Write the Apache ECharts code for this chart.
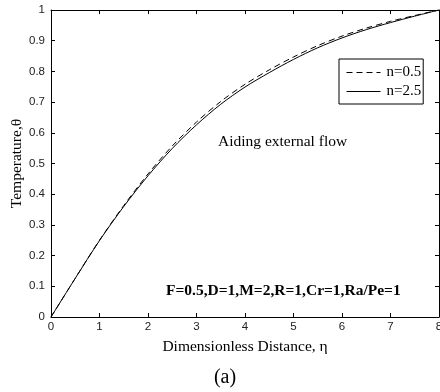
<!DOCTYPE html>
<html>
<head>
<meta charset="utf-8">
<script src="https://cdn.jsdelivr.net/npm/echarts@6/dist/echarts.min.js"></script>
<style>html,body{margin:0;padding:0;background:#fff}#c{width:440px;height:392px}</style>
</head>
<body>
<div id="c"></div>
<script>
var eta = [0, 0.5, 1, 1.5, 2, 2.5, 3, 3.5, 4, 4.5, 5, 5.5, 6, 6.5, 7, 7.5, 8];
var thetaN05 = [0, 0.126, 0.250, 0.363, 0.466, 0.557, 0.635, 0.702, 0.758, 0.805, 0.847, 0.884, 0.915, 0.941, 0.963, 0.982, 1.0];
var thetaN25 = [0, 0.126, 0.249, 0.360, 0.460, 0.549, 0.626, 0.693, 0.749, 0.796, 0.839, 0.877, 0.909, 0.936, 0.959, 0.980, 1.0];
var seriesNames = ['n=0.5', 'n=2.5'];
var xTitle = 'Dimensionless Distance, \u03b7';
var yTitle = 'Temperature,\u03b8';
var noteText = 'Aiding external flow';
var paramText = 'F=0.5,D=1,M=2,R=1,Cr=1,Ra/Pe=1';
var panelLabel = '(a)';

function pairs(xs, ys) { return xs.map(function (x, i) { return [x, ys[i]]; }); }

var serif = '"Liberation Serif", "Times New Roman", serif';
var chart = echarts.init(document.getElementById('c'), null, { renderer: 'canvas' });
var axisLine = { show: true, onZero: false, lineStyle: { color: '#000', width: 1 } };
var lblStyle = { color: '#222', fontFamily: 'Liberation Sans, Arial, sans-serif', fontSize: 11.5 };
chart.setOption({
  animation: false,
  backgroundColor: '#fff',
  grid: { left: 51, right: 1, top: 10, bottom: 75, containLabel: false, outerBoundsMode: 'none' },
  title: {
    text: panelLabel, left: 220, top: 363, textAlign: 'center',
    textStyle: { fontFamily: serif, fontSize: 20, fontWeight: 'normal', color: '#000' }
  },
  legend: {
    data: seriesNames, orient: 'vertical', left: 339, top: 59,
    padding: [6, 2, 5, 7], itemGap: 4, itemWidth: 34, itemHeight: 14,
    borderColor: '#000', borderWidth: 1, backgroundColor: '#fff',
    itemStyle: { opacity: 0 },
    lineStyle: { width: 1 },
    textStyle: { fontFamily: serif, fontSize: 15, color: '#000', padding: [0, 0, 0, 1] }
  },
  xAxis: [
    { type: 'value', min: 0, max: 8, interval: 1, position: 'bottom',
      name: xTitle, nameLocation: 'middle', nameGap: 22, nameMoveOverlap: false,
      nameTextStyle: { fontFamily: serif, fontSize: 15.5, color: '#000' },
      axisLine: axisLine, axisTick: { inside: true, length: 4, lineStyle: { color: '#000' } },
      axisLabel: Object.assign({ margin: 4 }, lblStyle), splitLine: { show: false } },
    { type: 'value', min: 0, max: 8, interval: 1, position: 'top',
      axisLine: axisLine, axisTick: { inside: true, length: 4, lineStyle: { color: '#000' } },
      axisLabel: { show: false }, splitLine: { show: false } }
  ],
  yAxis: [
    { type: 'value', min: 0, max: 1, interval: 0.1, position: 'left',
      name: yTitle, nameLocation: 'middle', nameGap: 26, nameMoveOverlap: false,
      nameTextStyle: { fontFamily: serif, fontSize: 15.5, color: '#000' },
      axisLine: axisLine, axisTick: { inside: true, length: 4, lineStyle: { color: '#000' } },
      axisLabel: Object.assign({ margin: 6, formatter: function (v) { return String(+v.toFixed(1)); } }, lblStyle),
      splitLine: { show: false } },
    { type: 'value', min: 0, max: 1, interval: 0.1, position: 'right',
      axisLine: axisLine, axisTick: { inside: true, length: 4, lineStyle: { color: '#000' } },
      axisLabel: { show: false }, splitLine: { show: false } }
  ],
  graphic: [
    { type: 'text', left: 218, top: 134, style: { text: noteText, font: '15.5px ' + serif, fill: '#000' } },
    { type: 'text', left: 166, top: 283, style: { text: paramText, font: 'bold 15.5px ' + serif, fill: '#000' } }
  ],
  series: [
    { name: seriesNames[0], type: 'line', data: pairs(eta, thetaN05), smooth: 0.3, symbol: 'none', showSymbol: false,
      color: '#000', lineStyle: { color: '#000', width: 1, type: [6, 4] } },
    { name: seriesNames[1], type: 'line', data: pairs(eta, thetaN25), smooth: 0.3, symbol: 'none', showSymbol: false,
      color: '#000', lineStyle: { color: '#000', width: 1, type: 'solid' } }
  ]
});
</script>
</body>
</html>
